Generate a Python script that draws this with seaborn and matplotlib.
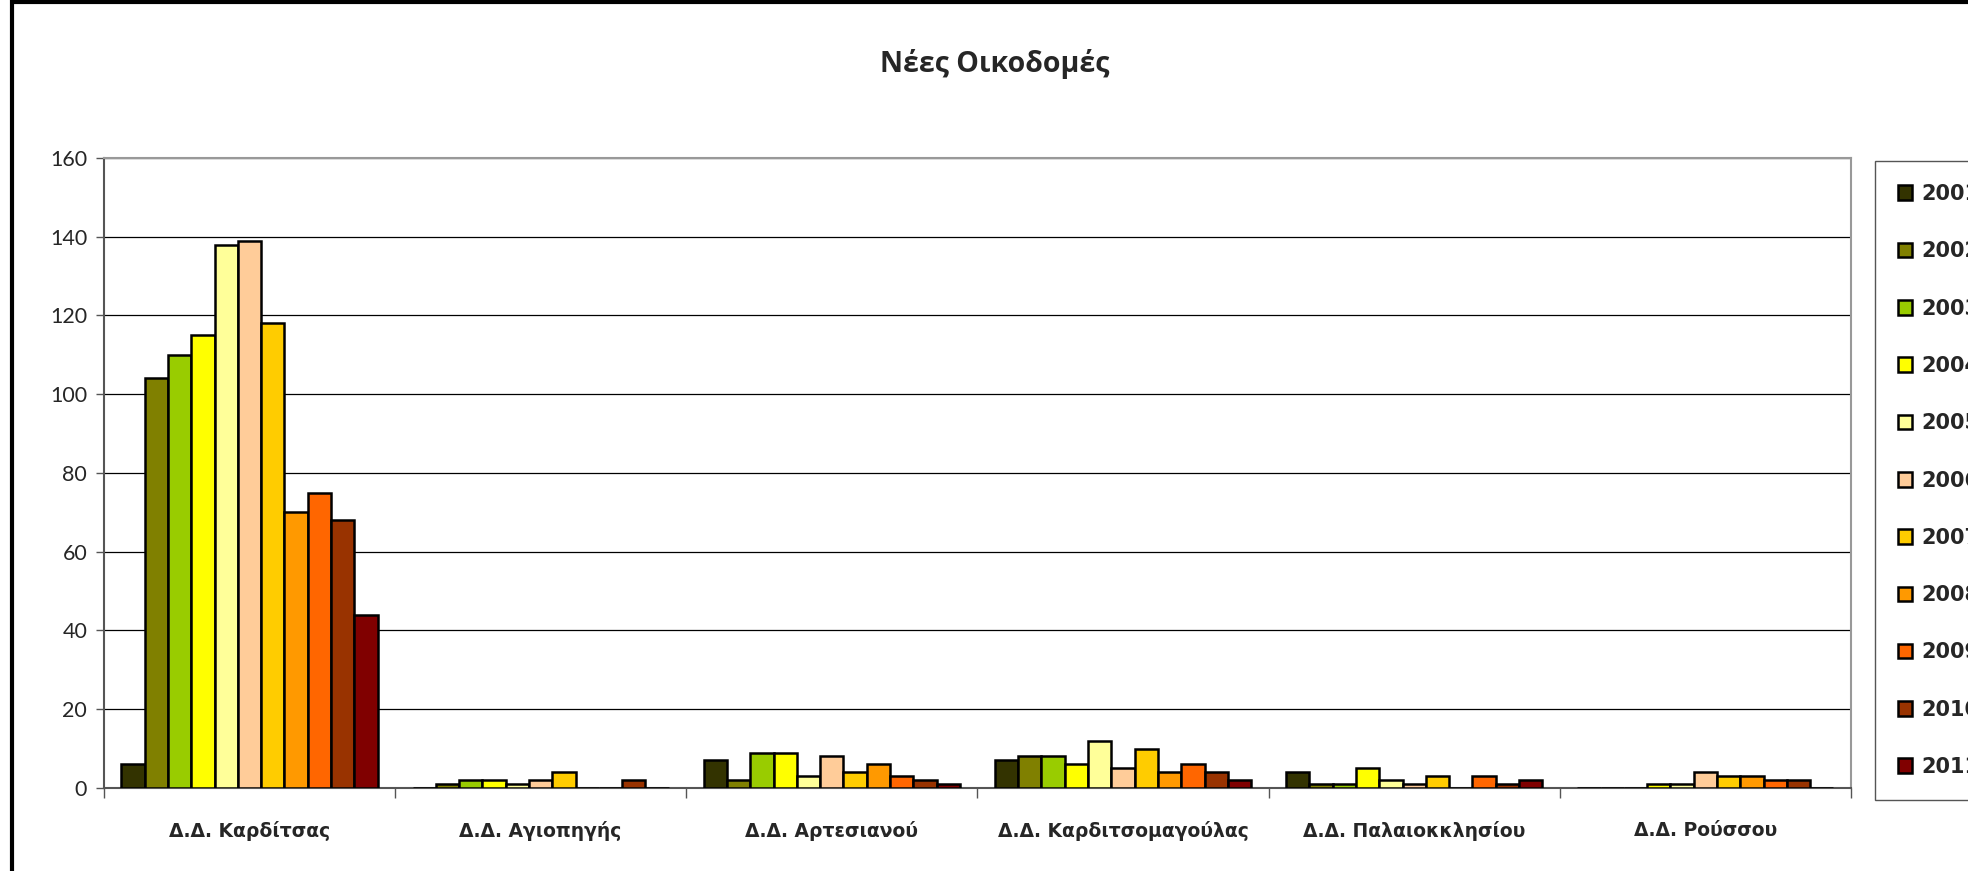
import numpy as np
import pandas as pd
import matplotlib
matplotlib.use('Agg')
import matplotlib.pyplot as plt
import seaborn as sns
from matplotlib.patches import Rectangle

# data
areas = ['Δ.Δ. Καρδίτσας', 'Δ.Δ. Αγιοπηγής', 'Δ.Δ. Αρτεσιανού',
         'Δ.Δ. Καρδιτσομαγούλας', 'Δ.Δ. Παλαιοκκλησίου', 'Δ.Δ. Ρούσσου']
years = ['2001', '2002', '2003', '2004', '2005', '2006',
         '2007', '2008', '2009', '2010', '2011']
karditsa = [6, 104, 110, 115, 138, 139, 118, 70, 75, 68, 44]
agiopigi = [0, 1, 2, 2, 1, 2, 4, 0, 0, 2, 0]
artesiano = [7, 2, 9, 9, 3, 8, 4, 6, 3, 2, 1]
karditsomagoula = [7, 8, 8, 6, 12, 5, 10, 4, 6, 4, 2]
palaiokklisi = [4, 1, 1, 5, 2, 1, 3, 0, 3, 1, 2]
roussos = [0, 0, 0, 1, 1, 4, 3, 3, 2, 2, 0]
colors = ['#333300', '#808000', '#99CC00', '#FFFF00', '#FFFF99', '#FFCC99',
          '#FFCC00', '#FF9900', '#FF6600', '#993300', '#800000']

series = [karditsa, agiopigi, artesiano, karditsomagoula, palaiokklisi, roussos]
rows = []
for area, vals in zip(areas, series):
    for y, v in zip(years, vals):
        rows.append({'area': area, 'year': y, 'value': v})
df = pd.DataFrame(rows)

sns.set_style('white')
plt.rcParams['font.family'] = ['DejaVu Sans']

fig = plt.figure(figsize=(19.68, 8.71), dpi=100)
ax = fig.add_axes([0.0528, 0.0953, 0.8877, 0.7233])

sns.barplot(data=df, x='area', y='value', hue='year', palette=colors,
            width=0.88, edgecolor='black', linewidth=1.8, errorbar=None,
            saturation=1, ax=ax, zorder=3)

ax.set_ylim(0, 160)
ax.set_xlim(-0.5, 5.5)
ax.set_yticks(range(0, 161, 20))
ax.yaxis.grid(True, color='black', linewidth=0.9, zorder=0)
ax.set_axisbelow(True)
ax.set_xlabel('')
ax.set_ylabel('')
ax.tick_params(axis='y', length=6, width=1, direction='out',
               left=True, color='#555555', pad=6)
for lab in ax.get_yticklabels():
    lab.set_fontsize(15.5)
    lab.set_family(['Lato', 'DejaVu Sans'])
ax.tick_params(axis='x', which='major', length=0, pad=24)
ax.set_xticks(np.arange(-0.5, 6.0, 1.0), minor=True)
ax.tick_params(axis='x', which='minor', length=7, width=1, direction='out',
               bottom=True, color='#555555')
for lab in ax.get_xticklabels():
    lab.set_fontsize(13.5)
    lab.set_fontweight('bold')

for side in ['left', 'bottom']:
    ax.spines[side].set_color('#555555')
    ax.spines[side].set_linewidth(1.5)
for side in ['top', 'right']:
    ax.spines[side].set_color('#999999')
    ax.spines[side].set_linewidth(1.5)

handles, labels = ax.get_legend_handles_labels()
ax.legend(handles, labels, loc='upper left', bbox_to_anchor=(0.9527, 0.815),
          bbox_transform=fig.transFigure, borderaxespad=0, frameon=True,
          fancybox=False, edgecolor='#555555', framealpha=1,
          prop={'weight': 'bold', 'size': 15},
          labelspacing=1.79, handlelength=0.7, handleheight=0.7,
          handletextpad=0.45, borderpad=1.1)

fig.text(0.5055, 0.927, 'Νέες Οικοδομές', ha='center', va='center',
         fontsize=20.5, fontweight='bold', family=['Open Sans', 'DejaVu Sans'])

# outer chart border (top and left visible)
fig.patches.append(Rectangle((12 / 1968, -0.1), 1.2, 1.1 - 2.5 / 871,
                             transform=fig.transFigure, fill=False,
                             edgecolor='black', linewidth=3, clip_on=False))

fig.savefig('out.png', dpi=100)
